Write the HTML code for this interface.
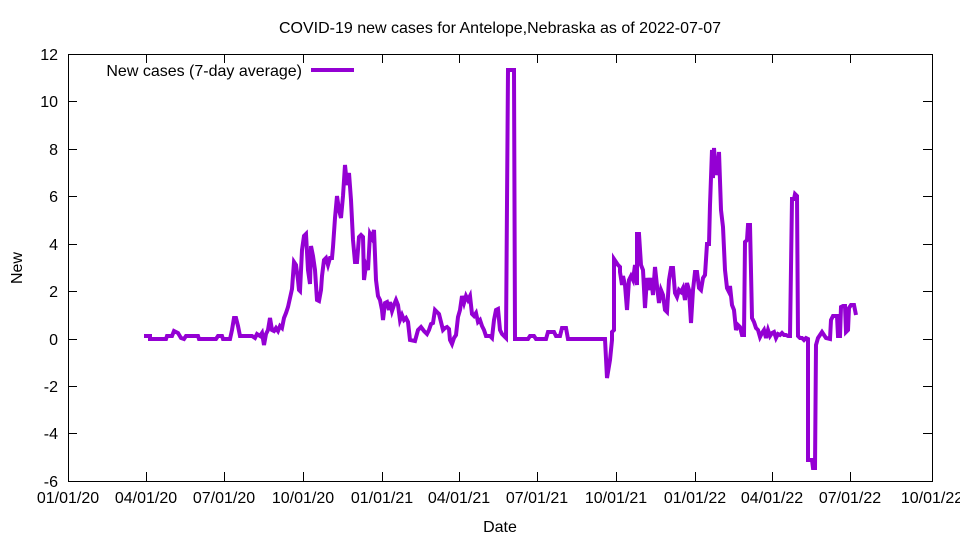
<!DOCTYPE html>
<html><head><meta charset="utf-8"><style>
html,body{margin:0;padding:0;background:#fff}
svg{display:block}
text{font-family:"Liberation Sans",sans-serif;font-size:16px;fill:#000}
</style></head><body>
<svg width="960" height="540" viewBox="0 0 960 540" xmlns="http://www.w3.org/2000/svg">
<rect x="68.5" y="54.5" width="864" height="427" fill="none" stroke="#000" stroke-width="1"/>
<g stroke="#000" stroke-width="1">
<path d="M68,481.5h9M932,481.5h-9M68,433.5h9M932,433.5h-9M68,386.5h9M932,386.5h-9M68,339.5h9M932,339.5h-9M68,291.5h9M932,291.5h-9M68,244.5h9M932,244.5h-9M68,196.5h9M932,196.5h-9M68,149.5h9M932,149.5h-9M68,101.5h9M932,101.5h-9M68,54.5h9M932,54.5h-9"/>
<path d="M68.5,481v-9M68.5,54v9M146.5,481v-9M146.5,54v9M224.5,481v-9M224.5,54v9M303.5,481v-9M303.5,54v9M382.5,481v-9M382.5,54v9M459.5,481v-9M459.5,54v9M537.5,481v-9M537.5,54v9M616.5,481v-9M616.5,54v9M695.5,481v-9M695.5,54v9M772.5,481v-9M772.5,54v9M850.5,481v-9M850.5,54v9M932.5,481v-9M932.5,54v9"/>
</g>
<g text-anchor="end">
<text x="58" y="487">-6</text><text x="58" y="439">-4</text><text x="58" y="392">-2</text><text x="58" y="345">0</text><text x="58" y="297">2</text><text x="58" y="250">4</text><text x="58" y="202">6</text><text x="58" y="155">8</text><text x="58" y="107">10</text><text x="58" y="60">12</text>
</g>
<g text-anchor="middle">
<text x="68" y="503">01/01/20</text><text x="146" y="503">04/01/20</text><text x="224" y="503">07/01/20</text><text x="303" y="503">10/01/20</text><text x="382" y="503">01/01/21</text><text x="459" y="503">04/01/21</text><text x="537" y="503">07/01/21</text><text x="616" y="503">10/01/21</text><text x="695" y="503">01/01/22</text><text x="772" y="503">04/01/22</text><text x="850" y="503">07/01/22</text><text x="932" y="503">10/01/22</text>
<text x="500" y="532">Date</text>
<text x="500" y="33">COVID-19 new cases for Antelope,Nebraska as of 2022-07-07</text>
</g>
<text x="22" y="268" text-anchor="middle" transform="rotate(-90 22 268)">New</text>
<text x="302" y="76" text-anchor="end">New cases (7-day average)</text>
<line x1="311" y1="70" x2="354" y2="70" stroke="#9400d3" stroke-width="4"/>
<polyline fill="none" stroke="#9400d3" stroke-width="4" stroke-linejoin="miter" points="144,336 150,336 150,339 166,339 167,336 172,336 174,331 178,333 181,338 184,339 186,336 198,336 199,339 216,339 218,336 222,336 223,339 230,339 232,330 234,318 236,318 238,326 240,336 243,336 252,336 255,338 257,334 260,336 262,333 264,345 266,334 268,330 270,318 272,330 274,331 276,328 278,331 280,326 282,328 284,318 286,313 288,307 290,298 292,289 294,262 296,265 298,280 299,290 300,291 302,250 304,236 306,234 308,270 310,284 311,246 313,256 315,270 317,300 319,301 321,290 322,276 324,260 326,258 328,265 330,258 332,258 333,247 335,218 337,196 339,210 341,218 343,196 345,165 347,185 349,173 351,200 353,240 355,262 357,262 359,237 361,235 363,237 364,280 366,265 368,270 370,234 372,238 374,230 376,280 378,296 380,300 382,310 383,320 385,303 387,302 389,310 390,302 392,311 394,305 396,300 398,305 400,320 402,315 404,320 406,318 408,322 410,340 415,341 418,330 421,327 424,331 427,334 429,330 431,324 433,323 435,310 437,312 439,314 441,322 443,330 445,328 447,327 449,329 450,340 452,344 454,338 456,335 458,317 460,310 462,296 464,303 466,296 468,300 470,296 472,314 474,316 476,313 478,322 480,320 482,326 484,330 486,336 488,336 490,336 492,338 494,320 496,310 498,309 500,330 502,334 504,336 506,338 508,70 514,70 515,339 528,339 530,336 534,336 536,339 546,339 548,332 554,332 556,336 560,336 562,328 566,328 568,339 605,339 607,378 610,360 612,340 612,332 614,330 614,259 616,262 618,265 620,267 620,272 622,285 623,276 625,285 627,310 629,280 631,276 633,280 635,265 637,285 637,234 639,234 641,265 643,270 645,308 647,278 649,290 651,278 653,295 655,267 657,286 659,303 661,290 663,295 665,310 667,312 669,280 671,268 673,268 675,293 677,297 679,290 681,292 683,288 685,300 687,283 689,290 691,323 693,290 695,272 697,272 699,288 701,290 703,278 705,275 707,244 709,244 710,205 712,150 713,178 714,148 716,175 718,165 719,152 721,210 723,227 725,270 727,288 729,292 730,286 732,305 734,310 736,330 738,325 740,327 742,335 744,335 745,242 747,240 748,225 750,225 752,318 754,322 756,328 758,330 760,337 762,333 764,330 766,338 768,330 770,336 772,333 774,332 776,338 778,334 780,335 782,333 784,335 786,335 788,336 790,336 792,199 794,199 795,194 797,196 798,336 800,338 802,338 804,340 806,338 808,339 808,460 812,460 813,468 815,468 816,345 818,338 820,335 822,332 824,335 826,338 830,339 831,320 833,316 835,316 837,316 838,336 840,336 841,307 843,306 845,306 846,332 848,330 849,308 851,305 854,305 856,315"/>
</svg>
</body></html>
